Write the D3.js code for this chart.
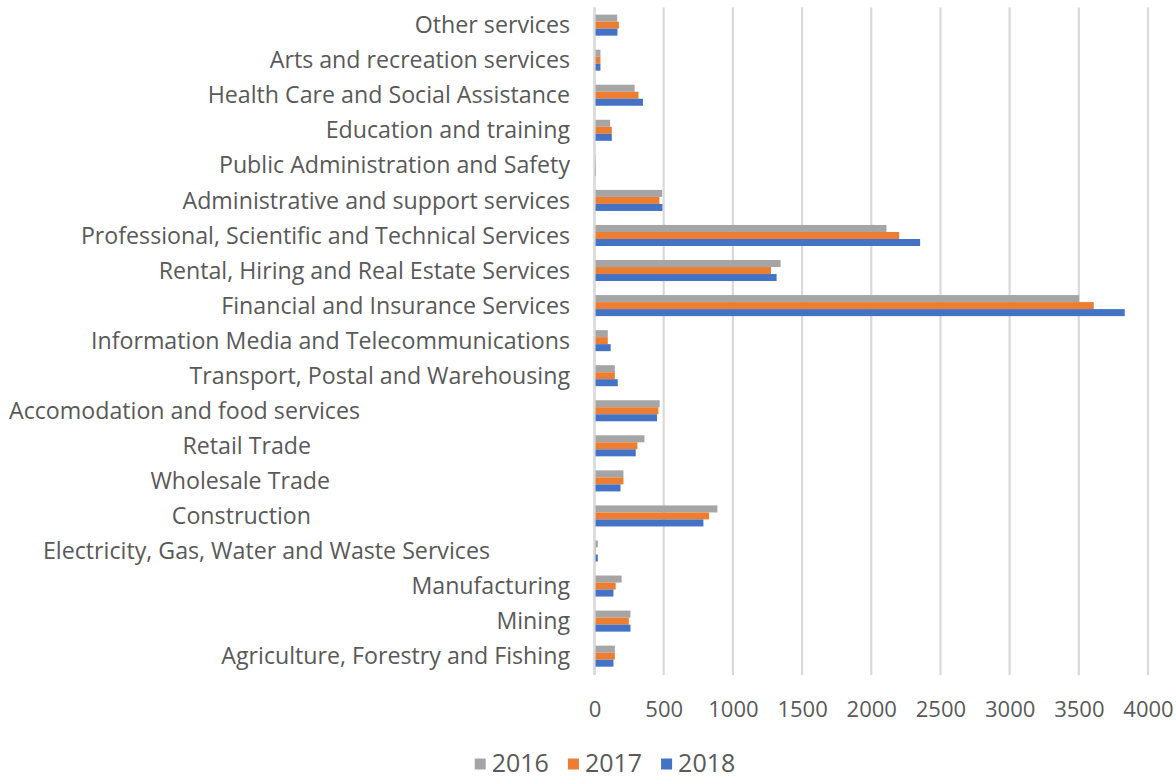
<!DOCTYPE html>
<html>
<head>
<meta charset="utf-8">
<script src="https://cdn.jsdelivr.net/npm/d3@7/dist/d3.min.js"></script>
<style>
  html, body { margin: 0; padding: 0; background: #fff; }
  svg { display: block; font-family: "Open Sans", sans-serif; }
</style>
</head>
<body>
<svg id="chart" width="1176" height="778"></svg>
<script>
// Industry categories, listed top to bottom as drawn
const categories = [
  "Other services",
  "Arts and recreation services",
  "Health Care and Social Assistance",
  "Education and training",
  "Public Administration and Safety",
  "Administrative and support services",
  "Professional, Scientific and Technical Services",
  "Rental, Hiring and Real Estate Services",
  "Financial and Insurance Services",
  "Information Media and Telecommunications",
  "Transport, Postal and Warehousing",
  "Accomodation and food services",
  "Retail Trade",
  "Wholesale Trade",
  "Construction",
  "Electricity, Gas, Water and Waste Services",
  "Manufacturing",
  "Mining",
  "Agriculture, Forestry and Fishing"
];

const values2016 = [164, 43, 290, 113, 8, 489, 2110, 1345, 3502, 96, 147, 471, 361, 209, 888, 24, 196, 260, 147];
const values2017 = [176, 43, 318, 125, 10, 469, 2202, 1275, 3608, 96, 147, 462, 310, 209, 828, 10, 153, 248, 147];
const values2018 = [166, 43, 350, 125, 10, 491, 2353, 1316, 3832, 117, 168, 452, 298, 188, 787, 24, 137, 260, 137];

const seriesNames = ["2016", "2017", "2018"];
const tickValues = [0, 500, 1000, 1500, 2000, 2500, 3000, 3500, 4000];

// Styling
const colors = { "2016": "#A5A5A5", "2017": "#ED7D31", "2018": "#4472C4" };
const textColor = "#595959";
const gridColor = "#D9D9D9";

// Some category labels carry extra trailing space in the source sheet,
// which pushes them left of the common right edge.
const labelTrail = {
  "Accomodation and food services": 210,
  "Retail Trade": 259,
  "Wholesale Trade": 240,
  "Construction": 259,
  "Electricity, Gas, Water and Waste Services": 80
};

const series = [values2016, values2017, values2018];
const rows = categories.map((c, i) => ({
  category: c,
  values: seriesNames.map((s, k) => ({ key: s, value: series[k][i] }))
}));

const svg = d3.select("#chart");

const x = d3.scaleLinear().domain([0, 4000]).range([594.5, 1148]);
const y = d3.scaleBand().domain(categories).range([7.6, 673.7])
  .paddingInner(0.4).paddingOuter(0.2);
const ySub = d3.scaleBand().domain(seriesNames).range([0, y.bandwidth()]);

// Vertical gridlines
svg.append("g")
  .selectAll("line")
  .data(tickValues)
  .join("line")
  .attr("x1", d => x(d)).attr("x2", d => x(d))
  .attr("y1", 7.6).attr("y2", 675)
  .attr("stroke", gridColor)
  .attr("stroke-width", 2.2);

// Bars
const groups = svg.append("g")
  .selectAll("g")
  .data(rows)
  .join("g")
  .attr("transform", d => `translate(0,${y(d.category)})`);

groups.selectAll("rect")
  .data(d => d.values)
  .join("rect")
  .attr("x", x(0))
  .attr("y", d => ySub(d.key))
  .attr("width", d => x(d.value) - x(0))
  .attr("height", ySub.bandwidth())
  .attr("fill", d => colors[d.key]);

// Category axis line
svg.append("line")
  .attr("x1", x(0)).attr("x2", x(0))
  .attr("y1", 7.6).attr("y2", 675)
  .attr("stroke", gridColor)
  .attr("stroke-width", 2.2);

// Category labels
svg.append("g")
  .selectAll("text")
  .data(categories)
  .join("text")
  .attr("x", d => 570 - (labelTrail[d] || 0))
  .attr("y", d => y(d) + y.bandwidth() / 2)
  .attr("dy", "0.35em")
  .attr("text-anchor", "end")
  .attr("fill", textColor)
  .style("font-size", "23.2px")
  .text(d => d);

// Value axis tick labels
const xAxis = d3.axisBottom(x)
  .tickValues(tickValues)
  .tickFormat(d3.format("d"))
  .tickSize(0).tickPadding(0);
const axisG = svg.append("g")
  .attr("transform", "translate(0,709)")
  .call(xAxis);
axisG.select(".domain").remove();
axisG.selectAll("text")
  .attr("y", 0)
  .attr("dy", "0.35em")
  .attr("fill", textColor)
  .style("font-family", "'Open Sans', sans-serif")
  .style("font-size", "22px");

// Legend
const legend = svg.append("g");
const items = legend.selectAll("g")
  .data(seriesNames)
  .join("g");
items.append("rect")
  .attr("width", 11).attr("height", 11)
  .attr("y", -4.5)
  .attr("fill", d => colors[d]);
items.append("text")
  .attr("x", 17)
  .attr("dy", "0.35em")
  .attr("fill", textColor)
  .style("font-size", "25px")
  .text(d => d);
const widths = [];
items.each(function () {
  widths.push(this.getBBox().width);
});
const gap = 19;
const total = d3.sum(widths) + gap * (widths.length - 1);
let cursor = 605 - total / 2;
items.attr("transform", (d, i) => {
  const t = `translate(${cursor},763)`;
  cursor += widths[i] + gap;
  return t;
});
</script>
</body>
</html>
